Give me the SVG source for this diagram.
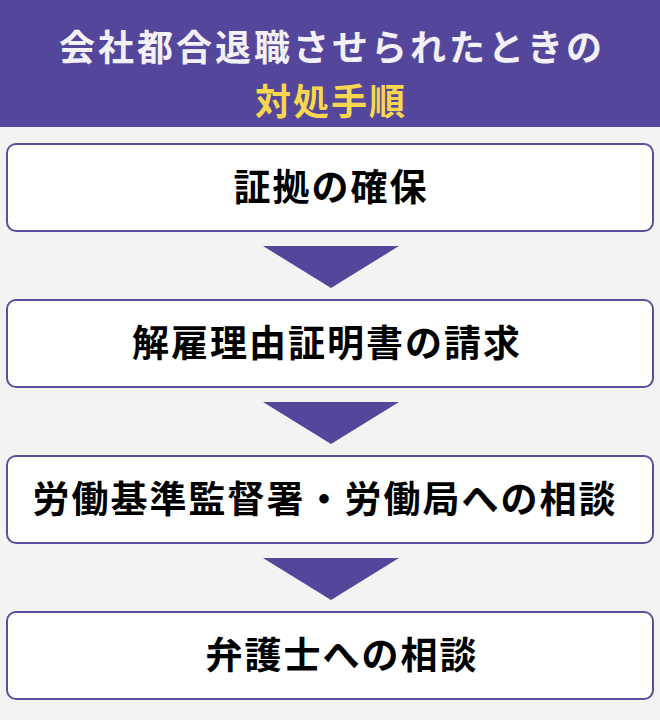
<svg xmlns="http://www.w3.org/2000/svg" width="660" height="720" viewBox="0 0 660 720">
<style>
.box{fill:#ffffff;stroke:#5a4ea0;stroke-width:2}
.arr{fill:#54479b}
.t{font-family:"Noto Sans CJK JP","Noto Sans",sans-serif;font-weight:bold;text-anchor:middle}
.bt{font-size:37px;fill:#000000;letter-spacing:2px}
</style>
<rect x="0" y="0" width="660" height="720" fill="#f3f3f3"/>
<g id="header">
<rect x="0" y="0" width="660" height="127" fill="#54479b"/>
<text class="t" x="332" y="61" font-size="36" fill="#f3f0f7" letter-spacing="3">会社都合退職させられたときの</text>
<text class="t" x="331" y="115" font-size="36" fill="#f8d74e" letter-spacing="2">対処手順</text>
</g>
<g id="connectors">
<polygon class="arr" points="263,246 399,246 331,288"/>
<polygon class="arr" points="263,402 399,402 331,444"/>
<polygon class="arr" points="263,558 399,558 331,600"/>
</g>
<g id="step1">
<rect class="box" x="7" y="144" width="646" height="87" rx="9"/>
<text class="t bt" x="331" y="201">証拠の確保</text>
</g>
<g id="step2">
<rect class="box" x="7" y="300" width="646" height="87" rx="9"/>
<text class="t bt" x="327" y="357" letter-spacing="2.7">解雇理由証明書の請求</text>
</g>
<g id="step3">
<rect class="box" x="7" y="456" width="646" height="87" rx="9"/>
<text class="t bt" x="325" y="513">労働基準監督署・労働局への相談</text>
</g>
<g id="step4">
<rect class="box" x="7" y="612" width="646" height="87" rx="9"/>
<text class="t bt" x="342" y="669">弁護士への相談</text>
</g>
</svg>
